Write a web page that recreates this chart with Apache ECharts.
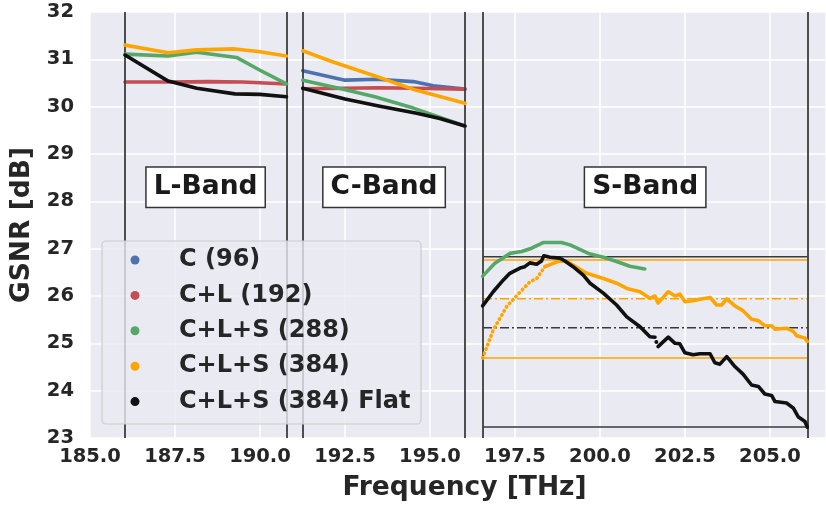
<!DOCTYPE html>
<html>
<head>
<meta charset="utf-8">
<script src="https://cdn.jsdelivr.net/npm/echarts@6/dist/echarts.min.js"></script>
<style>
  html, body { margin: 0; padding: 0; background: #ffffff; }
  #chart { width: 826px; height: 509px; }
</style>
</head>
<body>
<div id="chart"></div>
<script>
// GSNR per channel across the L, C and S bands.
const seriesNames = ['C (96)', 'C+L (192)', 'C+L+S (288)', 'C+L+S (384)', 'C+L+S (384) Flat'];
const seriesColors = ['#4c72b0', '#c44e52', '#55a868', '#ffa500', '#111111'];

// band edges [THz]
const bandEdges = [186.03, 190.78, 191.26, 196.03, 196.56, 206.1];
const bandLabels = [[188.4, 28.3, 'L-Band'], [193.65, 28.3, 'C-Band'], [201.33, 28.3, 'S-Band']];

// C (96)
const blueC = [[191.26, 30.76], [192.5, 30.56], [193.43, 30.58], [194.51, 30.53], [195.1, 30.44], [196.03, 30.37]];

// C+L (192)
const redL = [[186.03, 30.52], [187.3, 30.52], [188.5, 30.53], [189.5, 30.52], [190.78, 30.48]];
const redC = [[191.26, 30.38], [192.5, 30.39], [193.5, 30.40], [194.5, 30.39], [196.03, 30.37]];

// C+L+S (288)
const greenL = [[186.03, 31.11], [187.3, 31.07], [188.14, 31.15], [189.31, 31.04], [190.0, 30.77], [190.78, 30.48]];
const greenC = [[191.26, 30.56], [192.45, 30.37], [193.38, 30.21], [194.51, 29.97], [196.03, 29.59]];
const greenS = [[196.55, 26.42], [196.91, 26.69], [197.35, 26.90], [197.70, 26.94], [197.99, 27.01], [198.33, 27.13],
  [198.87, 27.13], [199.12, 27.08], [199.66, 26.90], [200.10, 26.82], [200.49, 26.73], [200.88, 26.63], [201.32, 26.57]];

// C+L+S (384)
const orangeL = [[186.03, 31.30], [187.3, 31.14], [188.14, 31.20], [189.26, 31.22], [190.0, 31.16], [190.78, 31.07]];
const orangeC = [[191.26, 31.18], [192.13, 30.95], [193.3, 30.67], [194.58, 30.35], [196.03, 30.07]];
const orangeSRise = [[196.55, 24.69], [196.86, 25.28], [197.26, 25.78], [197.66, 26.09], [197.94, 26.30], [198.14, 26.37], [198.38, 26.62]];
const orangeS = [[198.38, 26.62], [198.63, 26.69], [198.87, 26.76], [199.12, 26.69], [199.61, 26.48], [200.10, 26.37],
  [200.49, 26.27], [200.79, 26.16], [201.18, 26.09], [201.47, 25.95], [201.62, 26.00], [201.71, 25.85], [202.01, 26.09],
  [202.21, 26.00], [202.35, 26.04], [202.50, 25.88], [202.74, 25.90], [202.94, 25.93], [203.24, 25.97], [203.43, 25.81],
  [203.58, 25.81], [203.73, 25.94], [203.97, 25.79], [204.21, 25.69], [204.46, 25.51], [204.66, 25.48], [204.85, 25.37],
  [205.05, 25.37], [205.15, 25.30], [205.49, 25.32], [205.69, 25.25], [205.79, 25.16], [206.03, 25.11], [206.1, 25.04]];

// C+L+S (384) Flat
const blackL = [[186.03, 31.09], [187.3, 30.54], [188.14, 30.39], [189.26, 30.27], [190.0, 30.26], [190.78, 30.21]];
const blackC = [[191.26, 30.39], [192.5, 30.16], [193.53, 30.01], [194.61, 29.86], [195.29, 29.75], [196.03, 29.59]];
const blackS1 = [[196.55, 25.79], [196.86, 26.09], [197.16, 26.34], [197.35, 26.48], [197.65, 26.59], [197.79, 26.62],
  [197.94, 26.70], [198.14, 26.67], [198.28, 26.74], [198.35, 26.85], [198.53, 26.82], [198.82, 26.80], [198.97, 26.74],
  [199.21, 26.62], [199.51, 26.44], [199.71, 26.27], [200.10, 26.06], [200.49, 25.81], [200.79, 25.56], [201.18, 25.35],
  [201.47, 25.14], [201.62, 25.13]];
const blackSDot = [[201.66, 25.03]];
const blackS2 = [[201.71, 24.93], [202.01, 25.13], [202.21, 25.00], [202.35, 24.99], [202.50, 24.80], [202.74, 24.76],
  [202.94, 24.78], [203.24, 24.78], [203.38, 24.59], [203.53, 24.56], [203.73, 24.72], [203.97, 24.51], [204.21, 24.35],
  [204.46, 24.12], [204.66, 24.09], [204.85, 23.93], [205.05, 23.90], [205.15, 23.77], [205.49, 23.74], [205.69, 23.63],
  [205.83, 23.45], [206.03, 23.35], [206.1, 23.23]];

// S-band statistics: max / mean / min
const orangeStats = [26.76, 25.94, 24.69];
const blackStats = [26.83, 25.33, 23.23];

const FONT = 'DejaVu Sans';
const TEXT = '#262626';

function curve(idx, data, extra) {
  return Object.assign({
    name: seriesNames[idx],
    type: 'line',
    data: data,
    showSymbol: false,
    symbol: 'circle',
    color: seriesColors[idx],
    lineStyle: { width: 3.6, color: seriesColors[idx], cap: 'round', join: 'round' },
    z: 3 + idx,
    silent: true,
    animation: false
  }, extra || {});
}

function hline(y, color, dashed, name) {
  return {
    name: name,
    type: 'line',
    data: [[bandEdges[4], y], [bandEdges[5], y]],
    showSymbol: false,
    lineStyle: { width: 1.5, color: color, type: dashed ? [9, 3, 2, 3] : 'solid' },
    z: 2,
    silent: true,
    animation: false
  };
}

const series = [
  curve(0, blueC),
  curve(1, redL), curve(1, redC),
  curve(2, greenL), curve(2, greenC), curve(2, greenS),
  curve(3, orangeL), curve(3, orangeC), curve(3, orangeS),
  curve(3, orangeSRise, { lineStyle: { width: 3.6, color: seriesColors[3], type: [0.5, 4.2], cap: 'round' } }),
  curve(4, blackL), curve(4, blackC), curve(4, blackS1), curve(4, blackS2),
  curve(4, blackSDot, { showSymbol: true, symbolSize: 4, itemStyle: { color: seriesColors[4] } }),
  hline(orangeStats[0], '#ffa500', false, 'oMax'),
  hline(orangeStats[1], '#ffa500', true, 'oMean'),
  hline(orangeStats[2], '#ffa500', false, 'oMin'),
  hline(blackStats[0], '#3a3a3a', false, 'bMax'),
  hline(blackStats[1], '#3a3a3a', true, 'bMean'),
  hline(blackStats[2], '#3a3a3a', false, 'bMin'),
  {
    name: 'edges',
    type: 'line',
    data: [],
    silent: true,
    z: 2,
    markLine: {
      symbol: ['none', 'none'],
      silent: true,
      animation: false,
      label: { show: false },
      lineStyle: { color: '#3d3d3d', width: 1.8, type: 'solid' },
      data: bandEdges.map(x => ({ xAxis: x }))
    }
  },
  {
    name: 'bands',
    type: 'scatter',
    data: bandLabels,
    symbolSize: 0,
    silent: true,
    z: 10,
    animation: false,
    itemStyle: { opacity: 1 },
    label: {
      show: true,
      position: 'inside',
      formatter: p => p.data[2],
      fontFamily: FONT,
      fontWeight: 'bold',
      fontSize: 26.5,
      lineHeight: 27,
      color: '#1a1a1a',
      opacity: 1,
      backgroundColor: '#ffffff',
      borderColor: '#333333',
      borderWidth: 1.5,
      padding: [6, 7, 6, 7]
    }
  }
];

const chart = echarts.init(document.getElementById('chart'), null, { renderer: 'canvas' });
chart.setOption({
  animation: false,
  backgroundColor: '#ffffff',
  grid: {
    left: 90, right: 0, top: 12, bottom: 71,
    show: true, backgroundColor: '#eaeaf2', borderWidth: 0
  },
  xAxis: {
    type: 'value',
    min: 185, max: 206.65, interval: 2.5,
    name: 'Frequency [THz]',
    nameLocation: 'middle',
    nameGap: 37,
    nameTextStyle: { fontFamily: FONT, fontWeight: 'bold', fontSize: 26.5, color: TEXT, padding: [0, 0, 0, 13] },
    axisLine: { show: false },
    axisTick: { show: false },
    axisLabel: {
      fontFamily: FONT, fontWeight: 'bold', fontSize: 19.5, color: TEXT, margin: 9,
      showMaxLabel: false, showMinLabel: true,
      formatter: v => v.toFixed(1)
    },
    splitLine: { show: true, lineStyle: { color: '#ffffff', width: 1.5 } }
  },
  yAxis: {
    type: 'value',
    min: 23, max: 32, interval: 1,
    name: 'GSNR [dB]',
    nameLocation: 'middle',
    nameGap: 50,
    nameTextStyle: { fontFamily: FONT, fontWeight: 'bold', fontSize: 26.5, color: TEXT },
    axisLine: { show: false },
    axisTick: { show: false },
    axisLabel: { fontFamily: FONT, fontWeight: 'bold', fontSize: 19.5, color: TEXT, margin: 16 },
    splitLine: { show: true, lineStyle: { color: '#ffffff', width: 1.5 } }
  },
  legend: {
    data: seriesNames.map(n => ({ name: n, icon: 'circle' })),
    orient: 'vertical',
    left: 130.5, top: 247,
    itemWidth: 9, itemHeight: 9,
    itemGap: 9.4,
    padding: 0,
    selectedMode: false,
    z: 12,
    textStyle: {
      fontFamily: FONT, fontWeight: 'bold', fontSize: 24, lineHeight: 26, color: TEXT,
      padding: [0, 0, 0, 34.5]
    }
  },
  graphic: [{
    type: 'rect',
    z: 11,
    silent: true,
    shape: { x: 102, y: 241, width: 319, height: 183, r: 4 },
    style: { fill: 'rgba(234,234,242,0.8)', stroke: '#cccccc', lineWidth: 1.2 }
  }],
  series: series
});
</script>
</body>
</html>
